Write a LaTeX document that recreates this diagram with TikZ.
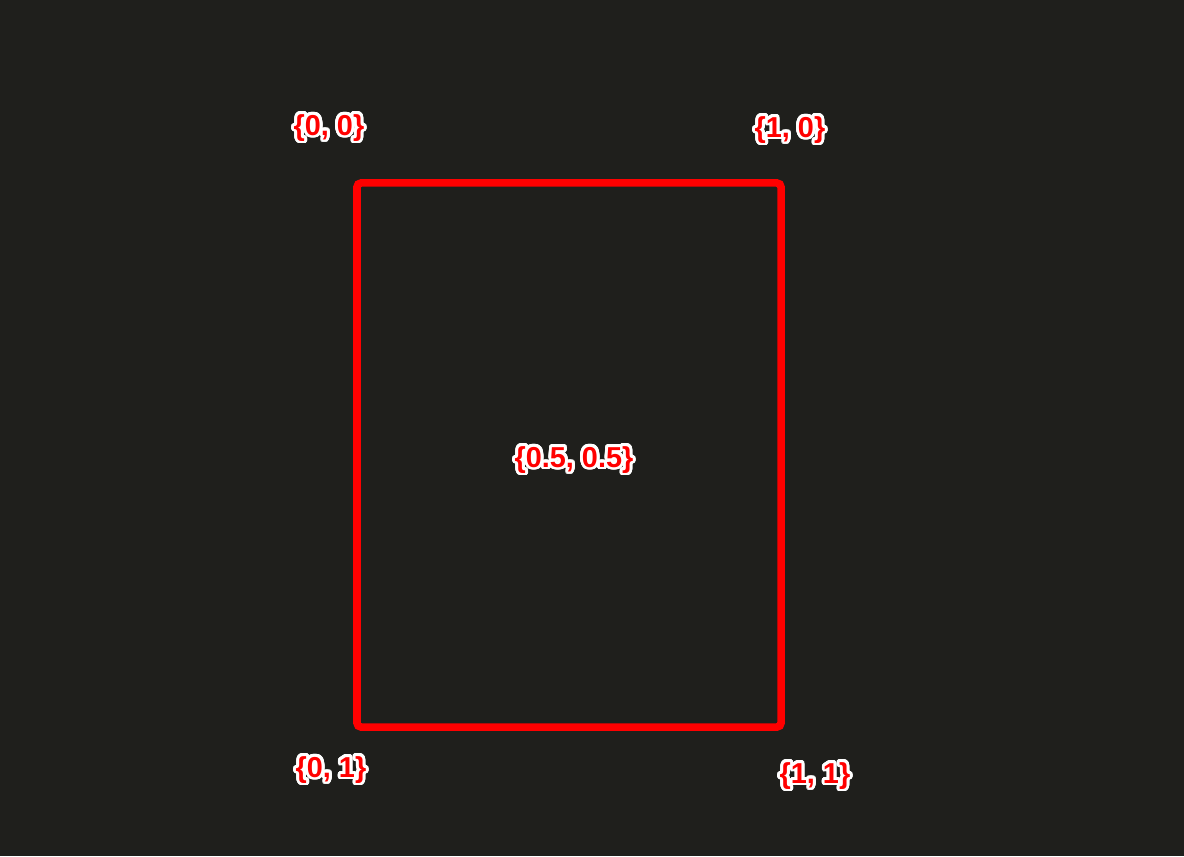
\documentclass[tikz,border=0pt]{standalone}
\usepackage{xcolor}
\usepackage{fontspec}
\setmainfont{Liberation Sans}
\usepackage{contour}
\contourlength{2pt}
\contournumber{32}
\usepackage{tikz}
\usetikzlibrary{
    positioning,
    calc
}
\definecolor{bgdark}{HTML}{1F1F1C}
\definecolor{markred}{HTML}{FF0000}

\begin{document}
\begin{tikzpicture}[
    x=0.025cm, y=-0.025cm,
    frame/.style={rectangle, draw=markred, line width=0.19cm, rounded corners=3pt, minimum width=10.6cm, minimum height=13.6cm},
    tag/.style={font=\bfseries\fontsize{20.5}{23}\selectfont, text=markred, inner sep=0pt},
]
    % Background
    \fill[bgdark] (0,0) rectangle (1184,856);
    \useasboundingbox (0,0) rectangle (1184,856);

    % Frame
    \node[frame] (box) at (569, 455) {};

    % Corner labels
    \node[tag] (tl) at (329, 129) {\contour{white}{\{0, 0\}}};
    \node[tag] (tr) at (790, 131) {\contour{white}{\{1, 0\}}};
    \node[tag] (bl) at (331, 771) {\contour{white}{\{0, 1\}}};
    \node[tag] (br) at (815, 777) {\contour{white}{\{1, 1\}}};

    % Centre label
    \node[tag] (mid) at (574, 461) {\contour{white}{\{0.5, 0.5\}}};

\end{tikzpicture}
\end{document}
